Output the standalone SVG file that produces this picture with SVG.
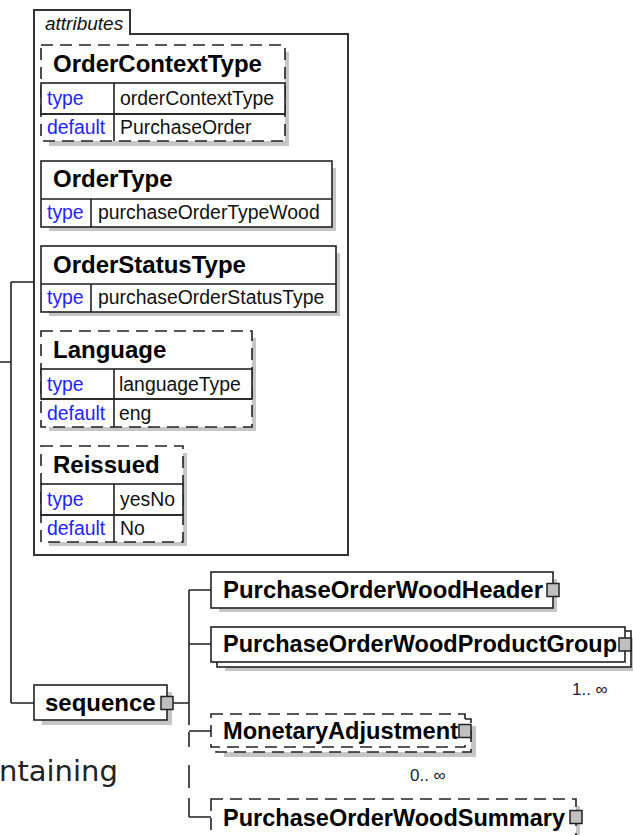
<svg xmlns="http://www.w3.org/2000/svg" width="633" height="835" viewBox="0 0 633 835">
<style>
.box{fill:#fff;stroke:#222;stroke-width:1.6}
.dash{stroke-dasharray:12 7}
.sh{fill:#c6c6c6}
.ln{fill:none;stroke:#222;stroke-width:1.6}
.ct{fill:none;stroke:#333;stroke-width:2}
.sq{fill:#c0c0c0;stroke:#222;stroke-width:1.5}
.hdr{font-family:"Liberation Sans",Arial,sans-serif;font-weight:bold;font-size:24px;fill:#000}
.lbl{font-family:"Liberation Sans",Arial,sans-serif;font-size:19.4px;fill:#2323ff}
.val{font-family:"Liberation Sans",Arial,sans-serif;font-size:19.4px;fill:#111}
.tab{font-family:"Liberation Sans",Arial,sans-serif;font-style:italic;font-size:19px;fill:#111}
.card{font-family:"Liberation Sans",Arial,sans-serif;font-size:17px;fill:#20203a}
.big{font-family:"DejaVu Sans",Verdana,sans-serif;font-size:29px;fill:#222}
</style>

<g id="connectors">
<path class="ln" d="M0,362H11M11,282V703M11,282H34M11,703H34"/>
<path class="ln" d="M172,703H189M189,590V725M189,590H211M189,644H211M189,731H211M189,817H211"/>
<path class="ln" d="M189,732V747M189,765V788M189,798V817"/>
</g>

<g id="attributes">
<path class="ct" d="M34,555V10H130V34H348V555Z"/>
<text class="tab" x="45" y="30">attributes</text>
</g>

<g id="attr-OrderContextType">
<rect class="sh" x="49" y="52" width="240" height="94"/>
<rect class="box dash" x="41" y="45" width="244" height="96"/>
<rect class="box" x="41" y="83" width="244" height="31"/>
<path class="ln" d="M41,114H285M114,83V141"/>
<text class="hdr" x="53" y="72">OrderContextType</text>
<text class="lbl" x="47" y="105">type</text>
<text class="val" x="120" y="105">orderContextType</text>
<text class="lbl" x="47" y="134">default</text>
<text class="val" x="120" y="134">PurchaseOrder</text>
</g>

<g id="attr-OrderType">
<rect class="sh" x="49" y="168" width="287" height="63"/>
<rect class="box" x="41" y="161" width="291" height="66"/>
<path class="ln" d="M41,199H332M91,199V227"/>
<text class="hdr" x="53" y="187">OrderType</text>
<text class="lbl" x="47" y="219">type</text>
<text class="val" x="98" y="219">purchaseOrderTypeWood</text>
</g>

<g id="attr-OrderStatusType">
<rect class="sh" x="49" y="253" width="291" height="63"/>
<rect class="box" x="41" y="246" width="295" height="66"/>
<path class="ln" d="M41,284H336M91,284V312"/>
<text class="hdr" x="53" y="273">OrderStatusType</text>
<text class="lbl" x="47" y="304">type</text>
<text class="val" x="98" y="304">purchaseOrderStatusType</text>
</g>

<g id="attr-Language">
<rect class="sh" x="49" y="338" width="207" height="93"/>
<rect class="box dash" x="41" y="331" width="211" height="96"/>
<rect class="box" x="41" y="369" width="211" height="30"/>
<path class="ln" d="M41,399H252M114,369V427"/>
<text class="hdr" x="53" y="358">Language</text>
<text class="lbl" x="47" y="391">type</text>
<text class="val" x="119" y="391">languageType</text>
<text class="lbl" x="47" y="420">default</text>
<text class="val" x="119" y="420">eng</text>
</g>

<g id="attr-Reissued">
<rect class="sh" x="49" y="453" width="138" height="93"/>
<rect class="box dash" x="41" y="446" width="142" height="96"/>
<rect class="box" x="41" y="484" width="142" height="31"/>
<path class="ln" d="M41,515H183M114,484V542"/>
<text class="hdr" x="53" y="473">Reissued</text>
<text class="lbl" x="47" y="506">type</text>
<text class="val" x="120" y="506">yesNo</text>
<text class="lbl" x="47" y="535">default</text>
<text class="val" x="120" y="535">No</text>
</g>

<g id="sequence">
<rect class="sh" x="42" y="692" width="130" height="33"/>
<rect class="box" x="34" y="685" width="133" height="35"/>
<text class="hdr" x="45" y="711">sequence</text>
<rect class="sq" x="161" y="696.5" width="12" height="13"/>
</g>

<g id="PurchaseOrderWoodHeader">
<rect class="sh" x="219" y="579" width="338" height="33"/>
<rect class="box" x="211" y="572" width="342" height="36"/>
<text class="hdr" x="223" y="598" textLength="320" lengthAdjust="spacingAndGlyphs">PurchaseOrderWoodHeader</text>
<rect class="sq" x="547" y="583.5" width="12" height="13"/>
</g>

<g id="PurchaseOrderWoodProductGroup">
<rect class="sh" x="225" y="638" width="410" height="33"/>
<rect class="box" x="217" y="631" width="414" height="36"/>
<rect class="box" x="211" y="627" width="414" height="35"/>
<text class="hdr" x="223" y="652" textLength="394" lengthAdjust="spacingAndGlyphs">PurchaseOrderWoodProductGroup</text>
<rect class="sq" x="619" y="638" width="12" height="13"/>
<text class="card" x="572" y="695">1.. ∞</text>
</g>

<g id="MonetaryAdjustment">
<rect class="sh" x="224" y="726" width="252" height="31"/>
<rect class="box dash" x="216" y="719" width="255" height="33"/>
<rect class="box dash" x="211" y="714" width="254" height="33"/>
<text class="hdr" x="223" y="739" textLength="235" lengthAdjust="spacingAndGlyphs">MonetaryAdjustment</text>
<rect class="sq" x="459" y="724.5" width="12" height="13"/>
<text class="card" x="410" y="781">0.. ∞</text>
</g>

<g id="PurchaseOrderWoodSummary">
<rect class="sh" x="219" y="806" width="361" height="40"/>
<rect class="box dash" x="211" y="799" width="365" height="40"/>
<text class="hdr" x="223" y="826" textLength="342" lengthAdjust="spacingAndGlyphs">PurchaseOrderWoodSummary</text>
<rect class="sq" x="570" y="810.5" width="12" height="13"/>
</g>

<text class="big" x="-1" y="781">ntaining</text>
</svg>
